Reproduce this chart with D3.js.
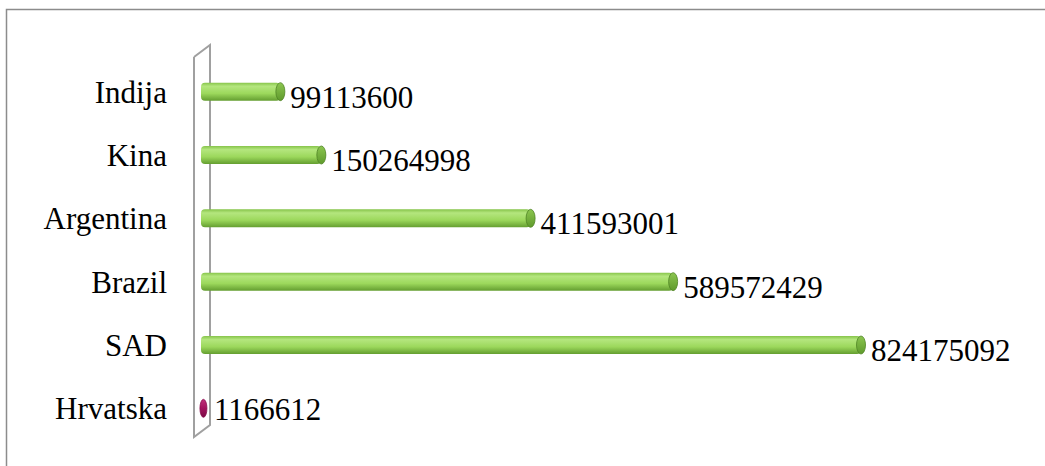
<!DOCTYPE html>
<html lang="hr">

<head>
    <meta charset="UTF-8" />
    <script src="https://d3js.org/d3.v7.min.js"></script>
    <title>Proizvodnja</title>
    <style>
        body { margin: 0; background: #fff; }
    </style>
</head>

<body>
    <script>
        const width = 1045,
            height = 466

        // podaci
        const countries = ['Indija', 'Kina', 'Argentina', 'Brazil', 'SAD', 'Hrvatska']
        const values = [99113600, 150264998, 411593001, 589572429, 824175092, 1166612]
        const highlight = ['Hrvatska']

        const font = "Liberation Serif, Tinos, DejaVu Serif, serif"

        const svg = d3.select('body').append('svg').attr('width', width).attr('height', height)

        // okvir
        svg.append('rect')
            .attr('x', 6.5).attr('y', 9.5)
            .attr('width', width + 20).attr('height', height + 20)
            .attr('fill', 'none').attr('stroke', '#8c8c8c').attr('stroke-width', 1.5)

        const x = d3.scaleLinear().domain([0, d3.max(values)]).range([201, 861])
        const y = d3.scaleBand().domain(countries).range([60, 440])
        const barH = 18

        // gradijenti za cilindre
        const defs = svg.append('defs')
        const grad = (id, stops) => {
            const g = defs.append('linearGradient').attr('id', id)
                .attr('x1', 0).attr('y1', 0).attr('x2', 0).attr('y2', 1)
            stops.forEach(s => g.append('stop').attr('offset', s[0]).attr('stop-color', s[1]))
        }
        grad('green', [[0, '#86c44a'], [0.2, '#b4e67e'], [0.6, '#9cd85c'], [1, '#649e30']])
        grad('cap', [[0, '#8cc650'], [1, '#5f9a2c']])
        grad('pink', [[0, '#c0307a'], [0.5, '#a3145e'], [1, '#7a0a44']])

        // 3D "zid" osi
        const x0 = x(0), depthX = 16, depthY = -12
        const wallTop = y.range()[0] - 3, wallBottom = y.range()[1] - 3
        svg.append('path')
            .attr('d', d3.line()([
                [x0 - 7, wallTop], [x0 - 7 + depthX, wallTop + depthY],
                [x0 - 7 + depthX, wallBottom + depthY], [x0 - 7, wallBottom], [x0 - 7, wallTop]
            ]))
            .attr('fill', 'none').attr('stroke', '#a0a0a0').attr('stroke-width', 2)

        const cy = d => y(d) + y.bandwidth() / 2
        const data = countries.map((c, i) => ({ c, v: values[i], hl: highlight.includes(c) }))

        // trake
        const bars = svg.selectAll('g.bar').data(data).enter().append('g').attr('class', 'bar')

        bars.filter(d => !d.hl).append('rect')
            .attr('x', x0)
            .attr('y', d => cy(d.c) - barH / 2)
            .attr('width', d => x(d.v) - x0)
            .attr('height', barH)
            .attr('rx', 4)
            .attr('fill', 'url(#green)')

        bars.append('ellipse')
            .attr('cx', d => d.hl ? x(d.v) + 1.5 : x(d.v))
            .attr('cy', d => cy(d.c))
            .attr('rx', d => d.hl ? 3.5 : 4.5)
            .attr('ry', barH / 2)
            .attr('fill', d => d.hl ? 'url(#pink)' : 'url(#cap)')
            .attr('stroke', d => d.hl ? '#8a0d4e' : '#4f8424')
            .attr('stroke-width', 0.8)

        // vrijednosti
        svg.selectAll('text.val').data(data).enter().append('text')
            .attr('class', 'val')
            .attr('x', d => x(d.v) + (d.hl ? 12 : 10))
            .attr('y', d => cy(d.c) + (d.hl ? 1 : 5))
            .attr('dy', '0.35em')
            .attr('font-family', font)
            .attr('font-size', 31)
            .text(d => d.v)

        // kategorije
        svg.selectAll('text.cat').data(countries).enter().append('text')
            .attr('class', 'cat')
            .attr('x', 167)
            .attr('y', d => cy(d))
            .attr('dy', '0.35em')
            .attr('text-anchor', 'end')
            .attr('font-family', font)
            .attr('font-size', 31)
            .text(d => d)
    </script>
</body>

</html>
